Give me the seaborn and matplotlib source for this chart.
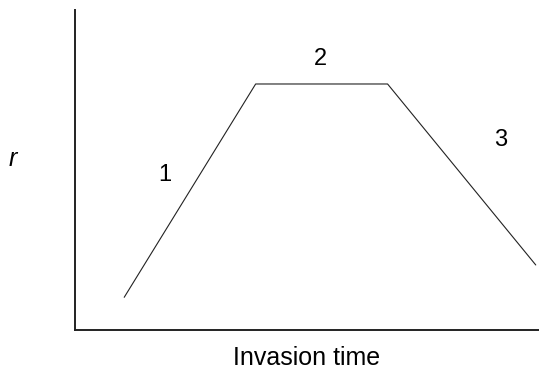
import numpy as np
import pandas as pd
import matplotlib
matplotlib.use('Agg')
import matplotlib.pyplot as plt
import seaborn as sns

# schematic curve: rise (1), plateau (2), decline (3)
invasion_time = [10.7, 39.0, 67.4, 99.3]
r_values = [10.3, 76.9, 76.9, 20.4]

phase_labels = ['1', '2', '3']
phase_x = [19.4, 53.0, 91.8]
phase_y = [48.5, 84.7, 59.3]

df = pd.DataFrame({'time': invasion_time, 'r': r_values})

sns.set_style('white')
plt.rcParams['font.family'] = ['Liberation Sans', 'DejaVu Sans']

fig = plt.figure(figsize=(5.39, 3.73), dpi=100)
ax = fig.add_axes([74.5 / 539, (373 - 330.3) / 373, (539 - 74.5) / 539, 320.3 / 373])

sns.lineplot(data=df, x='time', y='r', sort=False, color='#222222', linewidth=0.8, ax=ax)

for lab, x, y in zip(phase_labels, phase_x, phase_y):
    ax.text(x, y, lab, fontsize=17, ha='center', va='center', color='black')

ax.set_xlim(0, 100)
ax.set_ylim(0, 100)
ax.set_xticks([])
ax.set_yticks([])
sns.despine(ax=ax)
for side in ['left', 'bottom']:
    ax.spines[side].set_linewidth(1.4)
    ax.spines[side].set_color('#222222')

ax.set_xlabel('Invasion time', fontsize=18, labelpad=11, color='black')
ax.set_ylabel('r', fontsize=18, style='italic', rotation=0, color='black')
ax.yaxis.set_label_coords(-0.132, 0.535)
ax.yaxis.label.set_va('center')
ax.yaxis.label.set_ha('center')

fig.savefig('out.png', dpi=100)
